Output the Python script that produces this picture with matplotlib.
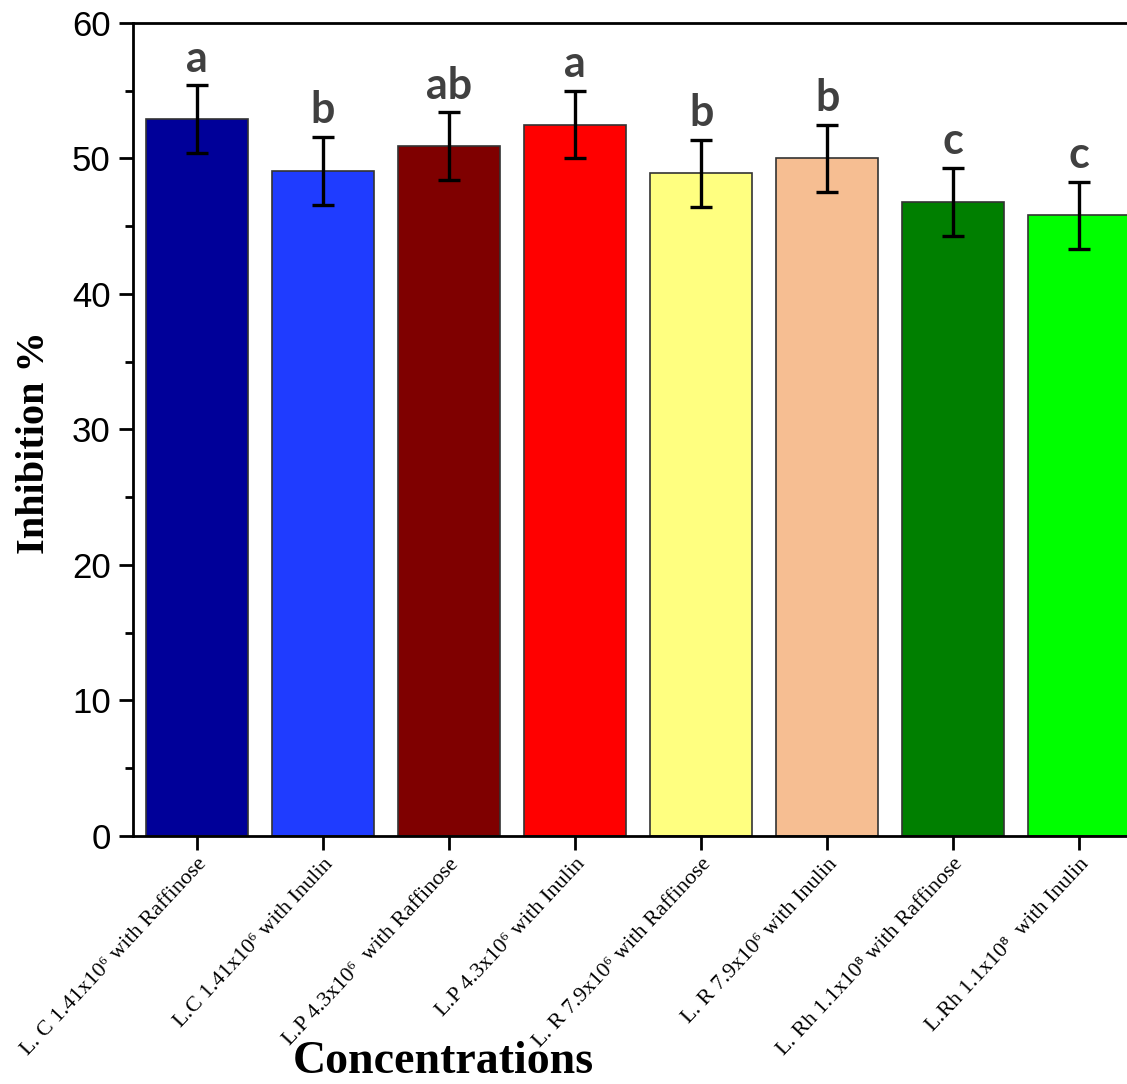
import numpy as np
import matplotlib.pyplot as plt
from matplotlib.ticker import MultipleLocator

# ---------------------------------------------------------------------
# Data
# ---------------------------------------------------------------------
labels = [
    'L. C 1.41x10\u2076 with Raffinose',
    'L.C 1.41x10\u2076 with Inulin',
    'L.P 4.3x10\u2076  with Raffinose',
    'L.P 4.3x10\u2076 with Inulin',
    'L. R 7.9x10\u2076 with Raffinose',
    'L. R 7.9x10\u2076 with Inulin',
    'L. Rh 1.1x10\u2078 with Raffinose',
    'L.Rh 1.1x10\u2078  with Inulin',
]
inhibition = [52.9, 49.1, 50.9, 52.5, 48.9, 50.0, 46.8, 45.8]
errors = [2.5, 2.5, 2.5, 2.5, 2.5, 2.5, 2.5, 2.5]
letters = ['a', 'b', 'ab', 'a', 'b', 'b', 'c', 'c']
colors = ['#000099', '#1f3cff', '#7f0000', '#ff0000',
          '#ffff80', '#f6be92', '#007f00', '#00ff00']

# ---------------------------------------------------------------------
# Plot
# ---------------------------------------------------------------------
fig = plt.figure(figsize=(11.27, 10.84), dpi=100)
ax = fig.add_axes([0.118, 0.2288, 0.8955, 0.75])

x = np.arange(len(labels))
ax.bar(x, inhibition, width=0.81, color=colors, edgecolor='#333333',
       linewidth=1.2, zorder=2)
ax.errorbar(x, inhibition, yerr=errors, fmt='none', ecolor='black',
            elinewidth=2.4, capsize=8, capthick=2.4, zorder=3)

for xi, v, e, lab in zip(x, inhibition, errors, letters):
    ax.text(xi, v + e + 0.5, lab, ha='center', va='bottom', fontsize=31,
            fontweight='bold', color='#404040', family='Lato')

ax.set_xlim(-0.508, 7.5)
ax.set_ylim(0, 60)
ax.yaxis.set_major_locator(MultipleLocator(10))
ax.yaxis.set_minor_locator(MultipleLocator(5))
ax.tick_params(axis='y', which='major', length=10, width=2, labelsize=25,
               pad=6)
ax.tick_params(axis='y', which='minor', length=6, width=2)
ax.tick_params(axis='x', which='major', length=10, width=2)
for lbl in ax.get_yticklabels():
    lbl.set_family('Liberation Sans')

ax.set_xticks(x)
ax.set_xticklabels(labels, rotation=47, ha='right', rotation_mode='anchor',
                   fontsize=16, family=['Liberation Serif', 'DejaVu Serif'])

for sp in ax.spines.values():
    sp.set_linewidth(2)

fig.text(35 / 1127, 1 - 443 / 1084, 'Inhibition %', rotation=90,
         ha='center', va='center', fontsize=29, fontweight='bold',
         family='Liberation Serif')
fig.text(443 / 1127, 1 - 1062 / 1084, 'Concentrations', ha='center',
         va='center', fontsize=33, fontweight='bold',
         family='Liberation Serif')

fig.savefig('out.png', dpi=100)
